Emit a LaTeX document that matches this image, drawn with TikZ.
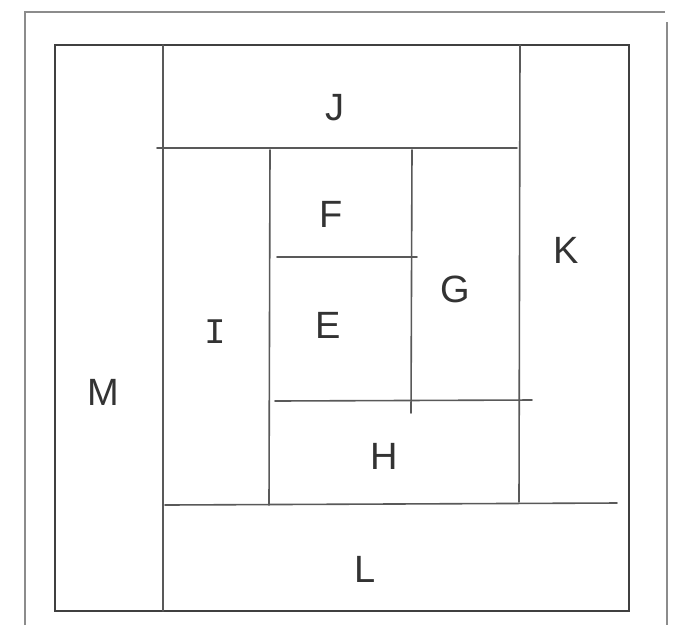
\documentclass[tikz,border=0pt]{standalone}
\usepackage{fontspec}
\setmainfont{Liberation Sans}
\newfontfamily\barfont{Liberation Mono}
\begin{document}
\begin{tikzpicture}[x=1pt,y=-1pt,
  pencil/.style={draw=black!75,line width=2.2pt,line cap=round},
  thin pencil/.style={draw=black!65,line width=1.6pt,line cap=round},
  frame/.style={draw=black!45,line width=1.5pt},
  lbl/.style={text=black!80,font=\fontsize{38}{38}\selectfont,inner sep=0pt}]
\useasboundingbox[fill=white] (0,0) rectangle (676,625);
% paper frame
\draw[frame] (25,625) -- (25,12) -- (665,12);
\draw[frame] (667,22) -- (667,625);
% main rectangle
\draw[pencil,line width=2.8pt] (55,45) rectangle (629,611);
% M divider
\draw[thin pencil] (163,45) -- (163,611);
% K divider
\draw[thin pencil] (520,45) -- (519,502);
% J bottom
\draw[thin pencil] (157,148) -- (517,148);
% L top
\draw[thin pencil] (165,505) -- (617,503);
% I right
\draw[thin pencil] (270,150) -- (269,505);
% G left
\draw[thin pencil] (412,150) -- (411,413);
% F / E
\draw[thin pencil] (277,257) -- (417,257);
% H top
\draw[thin pencil] (275,401) -- (532,400);
% labels
\node[lbl] (J) at (335,108) {J};
\node[lbl] (F) at (331,214) {F};
\node[lbl] (G) at (455,289) {G};
\node[lbl] (K) at (566,250) {K};
\node[lbl] (E) at (328,325) {E};
\node[lbl,font=\barfont\fontsize{36}{36}\selectfont] (I) at (215,332) {I};
\node[lbl] (M) at (103,392) {M};
\node[lbl] (H) at (384,456) {H};
\node[lbl] (L) at (365,569) {L};
\end{tikzpicture}
\end{document}
